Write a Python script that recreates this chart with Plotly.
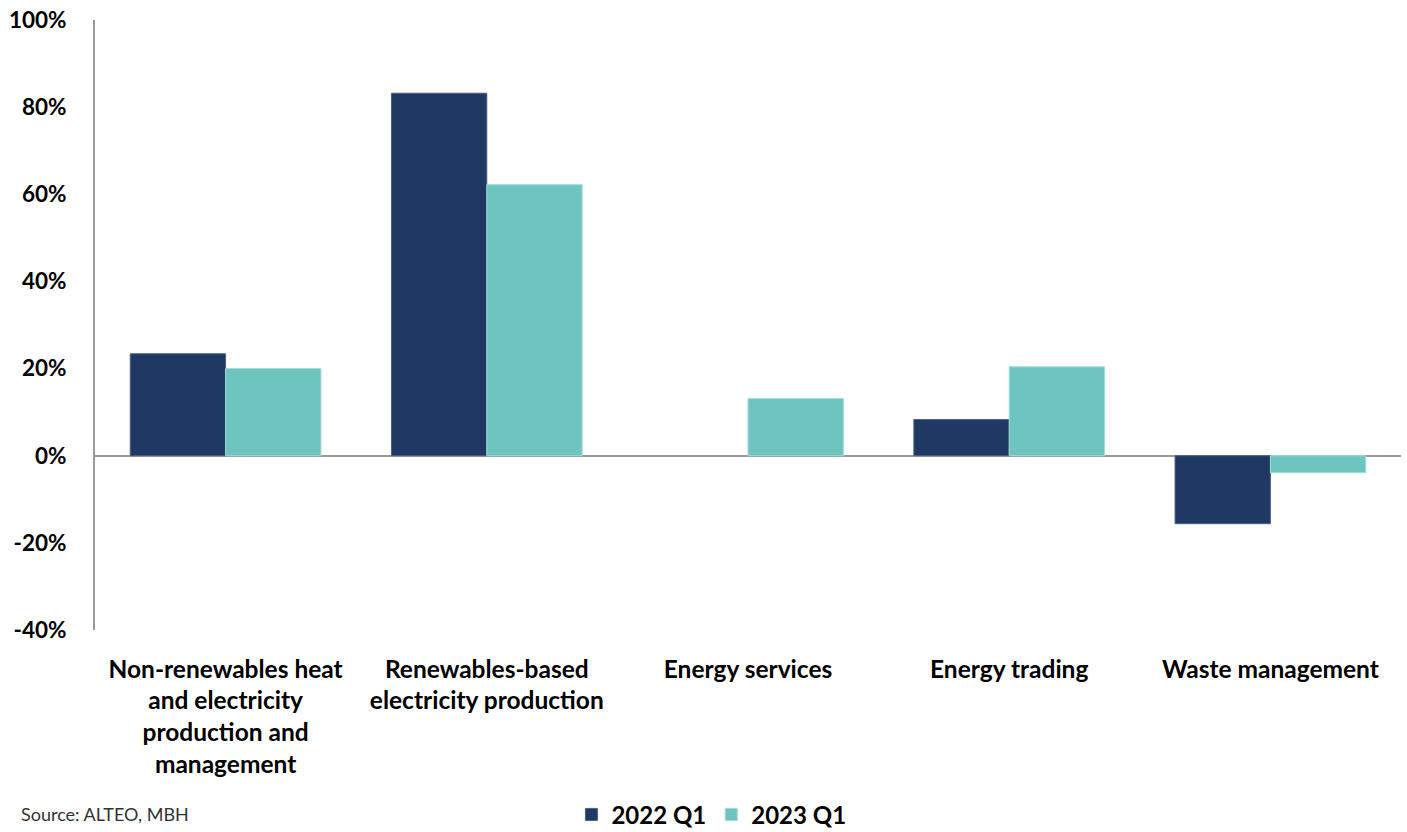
import plotly.graph_objects as go

categories = [
    "Non-renewables heat<br>and electricity<br>production and<br>management",
    "Renewables-based<br>electricity production",
    "Energy services",
    "Energy trading",
    "Waste management",
]
series_2022 = [23.4, 83.2, None, 8.3, -15.6]
series_2023 = [20.0, 62.2, 13.1, 20.4, -3.9]
y_ticks = [-40, -20, 0, 20, 40, 60, 80, 100]
y_tick_labels = [f"{v}%" for v in y_ticks]

FONT = "Lato"

fig = go.Figure()
fig.add_trace(go.Bar(name="2022 Q1", x=categories, y=series_2022,
                     marker=dict(color="#203864", line=dict(color="#4a5f8a", width=1))))
fig.add_trace(go.Bar(name="2023 Q1", x=categories, y=series_2023,
                     marker=dict(color="#6EC4BE", line=dict(color="#9fdcd8", width=1))))

fig.update_layout(
    width=1407, height=832,
    margin=dict(l=95, r=6, t=20, b=202, autoexpand=False),
    plot_bgcolor="white", paper_bgcolor="white",
    barmode="group", bargap=0.27, bargroupgap=0,
    font=dict(family=FONT, size=22, color="black"),
    legend=dict(orientation="h", x=0.472, xanchor="center", y=-0.303, yanchor="middle",
                font=dict(family=FONT, size=24, color="black", weight="bold"),
                itemwidth=30, traceorder="normal"),
    showlegend=True,
)
fig.update_xaxes(showgrid=False, showline=False, ticks="", automargin=False,
                 tickfont=dict(family=FONT, size=24.5, color="black", weight="bold"),
                 ticklabelstandoff=22)
fig.update_yaxes(range=[-40, 100], tickvals=y_ticks, ticktext=y_tick_labels,
                 showgrid=False, showline=True, linecolor="#9a9a9a", linewidth=2,
                 zeroline=True, zerolinecolor="#9a9a9a", zerolinewidth=2,
                 ticks="", ticklabelstandoff=22, automargin=False,
                 tickfont=dict(family=FONT, size=22.5, color="black", weight="bold"))
fig.add_annotation(text="Source: ALTEO, MBH", xref="paper", yref="paper",
                   x=-0.058, y=-0.302, xanchor="left", yanchor="middle", showarrow=False,
                   font=dict(family=FONT, size=18, color="#333333"))

fig.write_html("out.html")
